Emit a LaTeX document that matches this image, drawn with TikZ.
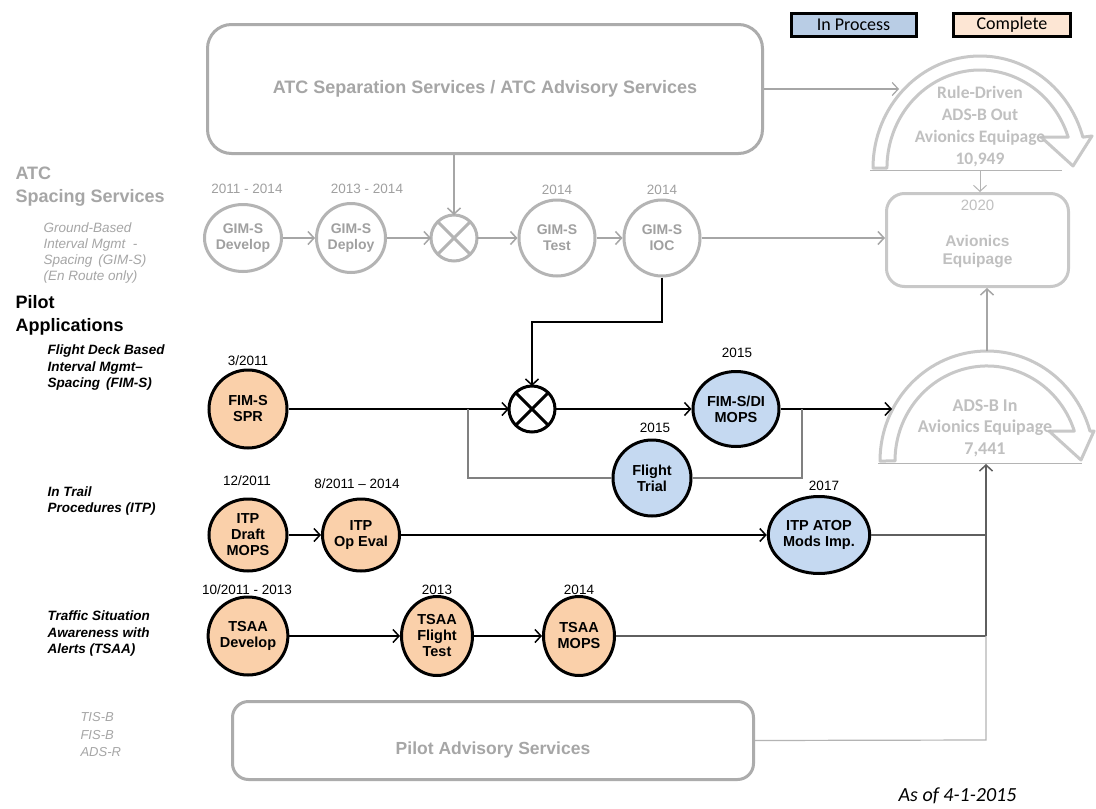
\documentclass[tikz,border=0pt]{standalone}
\usepackage{fontspec}
\setmainfont{Liberation Sans}
\newfontfamily\calibrifont{Carlito}
\usetikzlibrary{arrows.meta,shapes.geometric}
\definecolor{peach}{RGB}{250,208,170}
\definecolor{bluefill}{RGB}{197,217,241}
\definecolor{legblue}{RGB}{185,205,229}
\definecolor{legpeach}{RGB}{253,230,212}
\definecolor{labgray}{RGB}{166,166,166}
\definecolor{gimline}{RGB}{180,180,180}
\definecolor{gimtext}{RGB}{160,160,160}
\definecolor{boxline}{RGB}{172,172,172}
\definecolor{arcline}{RGB}{200,200,200}
\definecolor{arctext}{RGB}{192,192,192}
\definecolor{branchgray}{RGB}{128,128,128}
\definecolor{darkline}{RGB}{95,95,95}
\definecolor{paleline}{RGB}{180,180,180}
\newcommand{\fsz}[2]{\fontsize{#1}{#2}\selectfont}
\begin{document}
\begin{tikzpicture}[x=1pt,y=-1pt,
  circbase/.style={ellipse, inner sep=0pt, line width=3pt, align=center, font=\fsz{14.5}{16}\bfseries},
  donec/.style={circbase, draw=black, fill=peach},
  progc/.style={circbase, draw=black, fill=bluefill},
  gimc/.style={circbase, font=\fsz{14}{16}\bfseries, draw=gimline, fill=white, text=gimtext},
  xcirc/.style={circle, minimum size=46pt, inner sep=0pt, outer sep=0pt, line width=3pt, fill=white},
  datelab/.style={font=\fsz{13.5}{15}},
  gdatelab/.style={font=\fsz{13.5}{15}, text=gimtext},
  tip/.style={-{Straight Barb[length=6pt,width=13pt]}},
  barrow/.style={draw=black, line width=1.5pt, tip},
  bline/.style={draw=black, line width=1.5pt},
  garrow/.style={draw=labgray, line width=1.5pt, tip},
  brline/.style={draw=branchgray, line width=1.5pt},
  dline/.style={draw=darkline, line width=1.5pt},
  darrow/.style={draw=darkline, line width=1.5pt, tip},
  pline/.style={draw=paleline, line width=1.2pt},
  arcshape/.style={draw=arcline, line width=3pt, line join=round},
  arctxt/.style={text=arctext, font=\calibrifont\fsz{17.5}{22}\bfseries, align=center},
  bigbox/.style={draw=boxline, line width=3pt, fill=white, inner sep=0pt},
  legendbox/.style={draw=black, line width=3pt, inner sep=0pt, font=\calibrifont\fsz{18}{20}},
  mainlab/.style={anchor=west, align=left, font=\fsz{18}{23}\bfseries},
  sublab/.style={anchor=west, align=left, font=\fsz{13.5}{16.5}\bfseries\itshape},
]
\useasboundingbox (0,0) rectangle (1096,809);
\fill[white] (0,0) rectangle (1096,809);

% legend
\node[legendbox, fill=legblue, minimum width=125pt, minimum height=23pt] (inproc) at (853.5,24.5) {In Process};
\node[legendbox, fill=legpeach, minimum width=117pt, minimum height=23pt] (complete) at (1012,24.5) {Complete};

% big boxes
\node[bigbox, rounded corners=24pt, minimum width=555pt, minimum height=129pt, text=labgray, font=\fsz{18}{20}\bfseries] (atc) at (485,89) {ATC Separation Services / ATC Advisory Services};
\node[bigbox, rounded corners=16pt, minimum width=521pt, minimum height=78pt] (pas) at (493,740.5) {};
\node[text=labgray, font=\fsz{17.5}{20}\bfseries] (pastext) at (493,750) {Pilot Advisory Services};
\node[bigbox, draw=arcline, rounded corners=18pt, minimum width=182pt, minimum height=93pt] (avbox) at (977.5,240) {};
\node[text=arctext, font=\fsz{15}{17}] (av2020) at (977.5,205) {2020};
\node[text=arctext, font=\fsz{15.5}{18}\bfseries, align=center] (avtext) at (977.5,252) {Avionics\\Equipage};

% circular arrows
\draw[arcshape] (873,168) arc[start angle=180, end angle=16, x radius=107pt, y radius=112pt]
  -- (1092,136) -- (1073,166) -- (1041,137) -- (1068.2,137.1)
  arc[start angle=18.4, end angle=180, x radius=93pt, y radius=98pt] -- cycle;
\coordinate (rdL) at (870,170);
\coordinate (rdR) at (1062,170);
\coordinate (rdBase) at (980,170);
\coordinate (rdIn) at (899,89);
\draw[pline, line width=1pt] (rdL) -- (rdR);
\node[arctxt] (rdtext) at (980,127) {Rule-Driven\\ADS-B Out\\Avionics Equipage\\10,949};

\draw[arcshape] (880,461) arc[start angle=180, end angle=15.8, x radius=107pt, y radius=110pt]
  -- (1094,431) -- (1081,460) -- (1049,431) -- (1074.3,431)
  arc[start angle=18.4, end angle=180, x radius=92pt, y radius=95pt] -- cycle;
\coordinate (adL) at (878,463);
\coordinate (adR) at (1082,463);
\coordinate (adBase) at (986,464);
\coordinate (adTop) at (987,351);
\coordinate (adIn) at (892,409);
\draw[pline, line width=1pt] (adL) -- (adR);
\node[arctxt, font=\calibrifont\fsz{18}{21.5}\bfseries] (adtext) at (985,428) {ADS-B In\\Avionics Equipage\\7,441};

% left labels
\node[mainlab, text=labgray] (atclab) at (12,187) {ATC\\Spacing Services};
\node[sublab, font=\fsz{13.5}{16.3}\itshape, text=labgray] (gimlab) at (40,253) {Ground-Based\\Interval Mgmt \ -\\Spacing \,(GIM-S)\\(En Route only)};
\node[mainlab] (pilotlab) at (12,315) {Pilot\\Applications};
\node[sublab] (fimlab) at (44,368) {Flight Deck Based\\Interval Mgmt--\\Spacing \,(FIM-S)};
\node[sublab] (itplab) at (44,501) {In Trail\\Procedures (ITP)};
\node[sublab] (tsaalab) at (44,634) {Traffic Situation\\Awareness with\\Alerts (TSAA)};
\node[anchor=west, align=left, text=labgray, font=\fsz{13}{17.5}\itshape] (tislab) at (77,735) {TIS-B\\FIS-B\\ADS-R};
\node[anchor=east, font=\calibrifont\fsz{20}{22}\itshape] (asof) at (1020,796) {As of 4-1-2015};

% GIM-S row
\node[gimc, minimum width=67pt, minimum height=67pt] (gdev) at (243,238) {GIM-S\\Develop};
\node[gimc, minimum width=69pt, minimum height=69pt] (gdep) at (351,238) {GIM-S\\Deploy};
\node[xcirc, draw=gimline] (gx) at (454,238) {};
\draw[gimline, line width=3pt] (gx.north west) -- (gx.south east) (gx.north east) -- (gx.south west);
\node[gimc, minimum width=76pt, minimum height=76pt] (gtest) at (557,238) {GIM-S\\Test};
\node[gimc, minimum width=76pt, minimum height=76pt] (gioc) at (662,238) {GIM-S\\IOC};
\node[gdatelab] (d1) at (247,189) {2011 - 2014};
\node[gdatelab] (d2) at (367,189) {2013 - 2014};
\node[gdatelab] (d3) at (557,190) {2014};
\node[gdatelab] (d4) at (662,190) {2014};

\draw[garrow] (gdev.east) -- (gdep.west);
\draw[garrow] (gdep.east) -- (gx.west);
\draw[garrow] (gx.east) -- (gtest.west);
\draw[garrow] (gtest.east) -- (gioc.west);
\draw[garrow] (gioc.east) -- (avbox.west |- gioc.east);
\draw[garrow] (gx.north |- atc.south) -- (gx.north);
\draw[garrow, line width=1.2pt] (atc.east) -- (rdIn);
\draw[garrow, draw=paleline, line width=1pt] (rdBase) -- (avbox.north -| rdBase);
\draw[garrow] (adTop) -- (avbox.south -| adTop);

% FIM-S row
\node[donec, minimum width=78pt, minimum height=78pt] (spr) at (248,409) {FIM-S\\SPR};
\node[xcirc, draw=black] (bx) at (532,409) {};
\draw[black, line width=3pt] (bx.north west) -- (bx.south east) (bx.north east) -- (bx.south west);
\node[progc, minimum width=86pt, minimum height=75pt] (fimdi) at (736,409) {FIM-S/DI\\MOPS};
\node[progc, minimum width=78pt, minimum height=76pt] (trial) at (652,478) {Flight\\Trial};
\node[datelab] (d5) at (248,361) {3/2011};
\node[datelab] (d6) at (737,353) {2015};
\node[datelab] (d7) at (655,428) {2015};
\coordinate (bend) at (532,322);
\coordinate (br1) at (468,409);
\coordinate (br2) at (802,409);
\draw[barrow] (gioc.south) |- (bend) -- (bx.north);
\draw[barrow] (spr.east) -- (bx.west);
\draw[barrow] (bx.east) -- (fimdi.west);
\draw[barrow] (fimdi.east) -- (adIn);
\draw[brline] (br1) |- (trial.west);
\draw[brline] (trial.east) -| (br2);

% ITP row
\node[donec, minimum width=78pt, minimum height=72pt] (itpd) at (248,535) {ITP\\Draft\\MOPS};
\node[donec, minimum width=77pt, minimum height=72pt] (itpo) at (361,535) {ITP\\Op Eval};
\node[progc, minimum width=77pt, minimum height=77pt] (atop) at (819,535) {ITP ATOP\\Mods Imp.};
\node[datelab] (d8) at (247,481) {12/2011};
\node[datelab] (d9) at (357,484) {8/2011 -- 2014};
\node[datelab] (d10) at (824,486) {2017};
\coordinate (jitp) at (986,535);
\draw[barrow] (itpd.east) -- (itpo.west);
\draw[barrow] (itpo.east) -- (atop.west);
\draw[dline] (atop.east) -- (jitp);

% TSAA row
\node[donec, minimum width=78pt, minimum height=78pt] (tdev) at (248,636) {TSAA\\Develop};
\node[donec, minimum width=71pt, minimum height=79pt] (tft) at (437,636) {TSAA\\Flight\\Test};
\node[donec, minimum width=71pt, minimum height=79pt] (tmops) at (579,636) {TSAA\\MOPS};
\node[datelab] (d11) at (247,590) {10/2011 - 2013};
\node[datelab] (d12) at (437,590) {2013};
\node[datelab] (d13) at (579,590) {2014};
\coordinate (jtsaa) at (986,636);
\coordinate (jpas) at (986,740);
\draw[barrow] (tdev.east) -- (tft.west);
\draw[barrow] (tft.east) -- (tmops.west);
\draw[dline] (tmops.east) -- (jtsaa);
\draw[pline] (pas.east) -- (jpas) -- (jtsaa);
\draw[darrow] (jtsaa) -- (adBase);
\end{tikzpicture}
\end{document}
